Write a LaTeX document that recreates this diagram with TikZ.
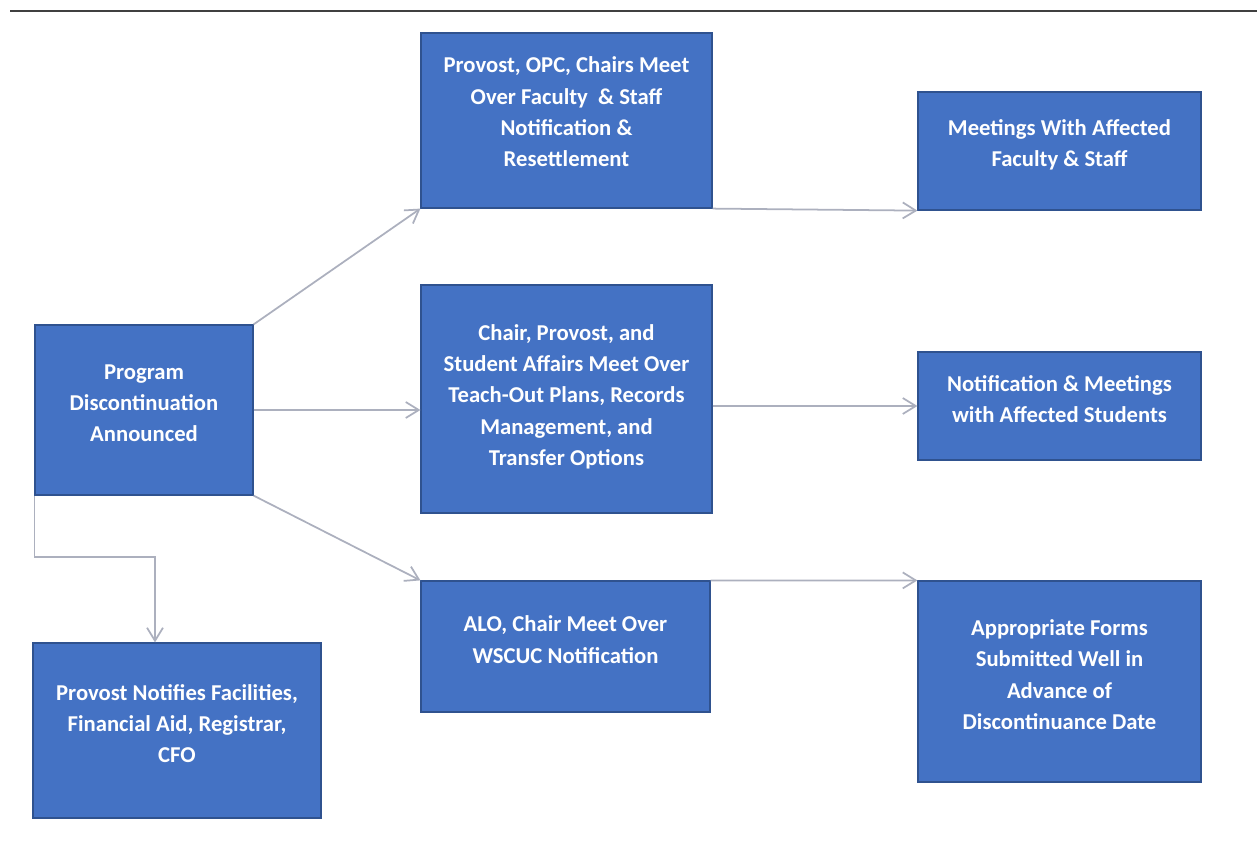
\documentclass[tikz,border=0pt]{standalone}
\usepackage{fontspec}
\setmainfont{Carlito}
\usetikzlibrary{arrows.meta}
\definecolor{boxblue}{RGB}{68,114,196}
\definecolor{boxedge}{RGB}{47,82,143}
\definecolor{arrgray}{RGB}{172,176,190}
\newcommand\lift{\\[-10pt]}
\tikzset{
    box/.style={rectangle, fill=boxblue, draw=boxedge, line width=0.7pt,
        text=white, align=center, inner sep=2pt,
        font=\fontsize{12.9}{17.8}\selectfont\bfseries},
    arr/.style={draw=arrgray, line width=1pt,
        -{Straight Barb[length=2.6mm,width=3.2mm,line width=1pt]}}
}
\begin{document}
\begin{tikzpicture}[x=0.02cm, y=-0.02cm]
    \useasboundingbox (0,0) rectangle (1257,844);
    \draw[line width=1pt, black!75] (10,11) -- (1257,11);

    % left column
    \node[box, minimum width=4.36cm, minimum height=3.4cm] (prog) at (144,410)
        {Program\\Discontinuation\\Announced\lift};
    \node[box, minimum width=5.76cm, minimum height=3.5cm] (notify) at (177,730.5)
        {Provost Notifies Facilities,\\Financial Aid, Registrar,\\CFO\lift};

    % middle column
    \node[box, minimum width=5.82cm, minimum height=3.5cm] (faculty) at (566.5,120.5)
        {Provost, OPC, Chairs Meet\\Over Faculty \ \& Staff\\Notification \&\\Resettlement\\[-8pt]};
    \node[box, minimum width=5.82cm, minimum height=4.56cm] (teach) at (566.5,399)
        {Chair, Provost, and\\Student Affairs Meet Over\\Teach-Out Plans, Records\\Management, and\\Transfer Options\\[-13pt]};
    \node[box, minimum width=5.78cm, minimum height=2.62cm] (alo) at (565.5,646.5)
        {ALO, Chair Meet Over\\WSCUC Notification\lift};

    % right column
    \node[box, minimum width=5.66cm, minimum height=2.36cm] (meetfac) at (1059.5,151)
        {Meetings With Affected\\Faculty \& Staff\\[-9pt]};
    \node[box, minimum width=5.66cm, minimum height=2.16cm] (students) at (1059.5,406)
        {Notification \& Meetings\\with Affected Students\lift};
    \node[box, minimum width=5.66cm, minimum height=4.02cm] (forms) at (1059.5,681.5)
        {Appropriate Forms\\Submitted Well in\\Advance of\\Discontinuance Date\lift};

    % connectors
    \coordinate (elbow) at (155,557);
    \draw[arr] (prog.north east) -- (faculty.south west);
    \draw[arr] (prog.east) -- (prog.east -| teach.west);
    \draw[arr] (prog.south east) -- (alo.north west);
    \draw[arr] (prog.south west) |- (elbow) -- (elbow |- notify.north);
    \draw[arr] (faculty.south east) -- (meetfac.south west);
    \draw[arr] (teach.east |- students.west) -- (students.west);
    \draw[arr] (alo.north east) -- (forms.north west);
\end{tikzpicture}
\end{document}
